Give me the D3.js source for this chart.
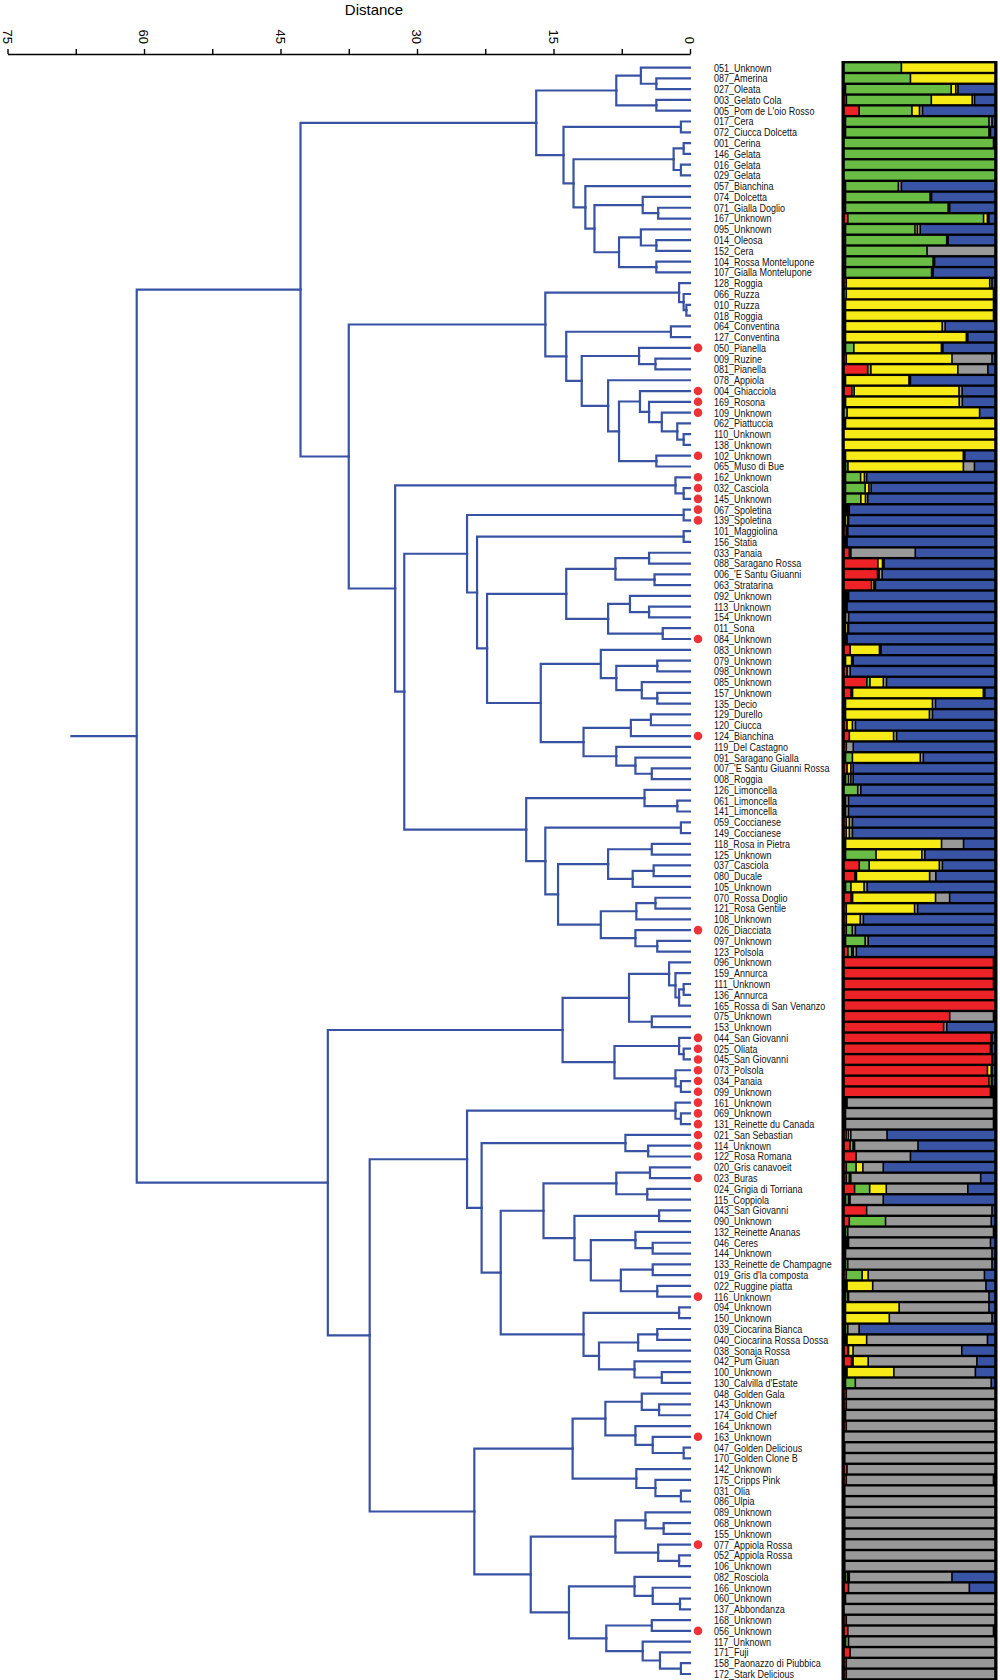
<!DOCTYPE html>
<html>
<head>
<meta charset="utf-8">
<script src="https://cdn.jsdelivr.net/npm/d3@7"></script>
<style>
  body { margin: 0; background: #fff; }
  svg text { font-family: "Liberation Sans", Arial, sans-serif; }
</style>
</head>
<body>
<div id="chart"></div>
<script>

// accessions, top to bottom
var labels = [
  "051_Unknown", "087_Amerina", "027_Oleata", "003_Gelato Cola", "005_Pom de L'oio Rosso",
  "017_Cera", "072_Ciucca Dolcetta", "001_Cerina", "146_Gelata", "016_Gelata",
  "029_Gelata", "057_Bianchina", "074_Dolcetta", "071_Gialla Doglio", "167_Unknown",
  "095_Unknown", "014_Oleosa", "152_Cera", "104_Rossa Montelupone", "107_Gialla Montelupone",
  "128_Roggia", "066_Ruzza", "010_Ruzza", "018_Roggia", "064_Conventina",
  "127_Conventina", "050_Pianella", "009_Ruzine", "081_Pianella", "078_Appiola",
  "004_Ghiacciola", "169_Rosona", "109_Unknown", "062_Piattuccia", "110_Unknown",
  "138_Unknown", "102_Unknown", "065_Muso di Bue", "162_Unknown", "032_Casciola",
  "145_Unknown", "067_Spoletina", "139_Spoletina", "101_Maggiolina", "156_Statia",
  "033_Panaia", "088_Saragano Rossa", "006_'E Santu Giuanni", "063_Stratarina", "092_Unknown",
  "113_Unknown", "154_Unknown", "011_Sona", "084_Unknown", "083_Unknown",
  "079_Unknown", "098_Unknown", "085_Unknown", "157_Unknown", "135_Decio",
  "129_Durello", "120_Ciucca", "124_Bianchina", "119_Del Castagno", "091_Saragano Gialla",
  "007_'E Santu Giuanni Rossa", "008_Roggia", "126_Limoncella", "061_Limoncella", "141_Limoncella",
  "059_Coccianese", "149_Coccianese", "118_Rosa in Pietra", "125_Unknown", "037_Casciola",
  "080_Ducale", "105_Unknown", "070_Rossa Doglio", "121_Rosa Gentile", "108_Unknown",
  "026_Diacciata", "097_Unknown", "123_Polsola", "096_Unknown", "159_Annurca",
  "111_Unknown", "136_Annurca", "165_Rossa di San Venanzo", "075_Unknown", "153_Unknown",
  "044_San Giovanni", "025_Oliata", "045_San Giovanni", "073_Polsola", "034_Panaia",
  "099_Unknown", "161_Unknown", "069_Unknown", "131_Reinette du Canada", "021_San Sebastian",
  "114_Unknown", "122_Rosa Romana", "020_Gris canavoeit", "023_Buras", "024_Grigia di Torriana",
  "115_Coppiola", "043_San Giovanni", "090_Unknown", "132_Reinette Ananas", "046_Ceres",
  "144_Unknown", "133_Reinette de Champagne", "019_Gris d'la composta", "022_Ruggine piatta", "116_Unknown",
  "094_Unknown", "150_Unknown", "039_Ciocarina Bianca", "040_Ciocarina Rossa Dossa", "038_Sonaja Rossa",
  "042_Pum Giuan", "100_Unknown", "130_Calvilla d'Estate", "048_Golden Gala", "143_Unknown",
  "174_Gold Chief", "164_Unknown", "163_Unknown", "047_Golden Delicious", "170_Golden Clone B",
  "142_Unknown", "175_Cripps Pink", "031_Olia", "086_Ulpia", "089_Unknown",
  "068_Unknown", "155_Unknown", "077_Appiola Rossa", "052_Appiola Rossa", "106_Unknown",
  "082_Rosciola", "166_Unknown", "060_Unknown", "137_Abbondanza", "168_Unknown",
  "056_Unknown", "117_Unknown", "171_Fuji", "158_Paonazzo di Piubbica", "172_Stark Delicious"
];

// accessions marked with a red dot
var dotted = ["050", "004", "169", "109", "102", "162", "032", "145", "067", "139",
  "084", "124", "026", "044", "025", "045", "073", "034", "099", "161",
  "069", "131", "021", "114", "122", "023", "116", "163", "077", "056"];

// membership to the five groups, one value per accession
var red = [
  0, 0, .01, .015, .10, .01, .01, 0, 0, 0,
  0, .01, .01, .01, .025, .01, .01, .01, .01, .01,
  .015, 0, .01, .01, .01, .01, .01, .015, .15, .01,
  .05, .01, 0, .01, 0, 0, .01, .01, .01, .01,
  .01, .01, .01, .015, .01, .035, .22, .22, .18, .01,
  .01, .01, .01, .01, .04, .01, .02, .145, .045, .01,
  .01, .02, .035, .015, .01, .02, .01, 0, .01, 0,
  .015, .015, .01, .01, .10, .07, .01, .045, .015, .015,
  .015, .01, .025, .99, .99, .99, 1, 1, .70, .66,
  .975, .97, .98, .95, .96, .97, .01, .01, .01, .015,
  .04, .08, .015, .015, .07, .01, .15, .035, .01, .01,
  .01, .01, .015, .01, .01, .01, .01, .01, .01, .025,
  .05, .01, .01, .015, .015, .01, .015, 0, .005, .005,
  .02, .015, .005, .005, .005, .005, .005, .005, .005, .005,
  .01, .03, .01, 0, .015, .025, .01, .04, .015, .015
];
var green = [
  .38, .44, .70, .54, .35, .95, .95, .99, 1, 1,
  1, .35, .56, .68, .89, .46, .67, .54, .58, .57,
  0, .015, 0, 0, 0, 0, .055, 0, .02, 0,
  .015, 0, .02, 0, 0, 0, 0, .015, .10, .13,
  .10, .01, 0, 0, 0, .01, 0, 0, 0, .01,
  0, 0, 0, 0, 0, 0, 0, .02, .01, 0,
  0, 0, 0, 0, .045, 0, .02, .09, 0, .01,
  0, 0, 0, .20, .065, .01, .035, .01, 0, 0,
  .04, .13, .025, 0, 0, 0, 0, 0, 0, 0,
  0, 0, 0, 0, 0, .01, .01, 0, 0, .015,
  .02, 0, .065, .02, .10, .02, 0, .24, .015, .01,
  0, .015, .105, .01, .015, 0, 0, .015, .01, .005,
  .01, .01, .065, 0, 0, 0, 0, 0, 0, 0,
  0, 0, 0, 0, 0, 0, 0, 0, 0, 0,
  .015, 0, 0, 0, 0, 0, .02, 0, 0, 0
];
var yellow = [
  .62, .56, .03, .26, .05, 0, 0, 0, 0, 0,
  0, 0, 0, 0, .025, .015, 0, 0, 0, 0,
  .95, .975, .98, .98, .64, .80, .58, .70, .55, .42,
  .67, .73, .86, .99, 1, 1, .78, .73, .025, .025,
  .03, .01, .015, 0, 0, 0, .03, .01, .015, 0,
  0, 0, .015, 0, .19, .04, 0, .085, .84, .57,
  .55, .035, .29, 0, .445, .025, .015, 0, 0, 0,
  .02, .02, .61, .30, .46, .47, .085, .53, .45, .09,
  0, 0, .01, 0, 0, 0, 0, 0, 0, 0,
  0, 0, 0, .025, .015, .01, 0, 0, 0, .015,
  .01, 0, .045, .01, .11, .01, 0, 0, 0, .01,
  0, 0, .04, .17, .005, .355, .29, 0, .13, .03,
  .10, .31, 0, 0, 0, 0, 0, 0, 0, 0,
  0, 0, 0, 0, 0, 0, 0, 0, 0, 0,
  .01, 0, 0, 0, 0, 0, 0, 0, 0, 0
];
var gray = [
  0, 0, .015, .015, .02, .02, .01, 0, 0, 0,
  0, .02, .01, .01, .01, .02, .01, .45, .01, .01,
  .015, 0, 0, 0, .02, .01, .01, .265, .19, .01,
  .02, .02, 0, 0, 0, 0, .01, .07, .015, .015,
  .015, .005, .005, .01, .01, .42, .01, .02, .01, .01,
  .01, .02, .005, .01, .01, .01, .02, .02, .01, .02,
  .02, .02, .02, .045, .02, .015, .015, .02, .02, .02,
  .02, .02, .14, .02, .02, .04, .02, .09, .02, .02,
  .02, .02, .02, 0, 0, 0, 0, 0, .29, .02,
  .005, .01, .005, .005, .005, 0, .97, .98, .98, .24,
  .42, .36, .135, .86, .54, .22, .83, .70, .965, .94,
  .97, .955, .77, .75, .93, .595, .68, .075, .80, .72,
  .72, .54, .90, .985, .985, .99, .985, 1, .995, .995,
  .98, .975, .995, .995, .995, .995, .995, .995, .995, .995,
  .68, .80, .99, 1, .985, .965, .97, .96, .985, .985
];
var blue = [
  0, 0, .245, .13, .48, .02, .03, .01, 0, 0,
  0, .62, .42, .30, .04, .495, .31, 0, .40, .41,
  .02, .01, .01, .01, .33, .18, .345, .02, .045, .56,
  .21, .21, .10, 0, 0, 0, .20, .13, .85, .82,
  .83, .965, .96, .96, .97, .52, .72, .74, .78, .96,
  .97, .95, .96, .97, .74, .93, .94, .69, .065, .39,
  .41, .915, .645, .92, .47, .93, .93, .88, .97, .97,
  .935, .935, .20, .46, .345, .38, .83, .29, .51, .85,
  .925, .84, .90, .01, .01, .01, 0, 0, .01, .32,
  .02, .02, .015, .02, .02, .01, .01, .01, .01, .715,
  .51, .56, .74, .095, .18, .74, .02, .025, .01, .03,
  .02, .02, .07, .06, .04, .04, .02, .90, .05, .22,
  .12, .13, .025, 0, 0, 0, 0, 0, 0, 0,
  0, .01, 0, 0, 0, 0, 0, 0, 0, 0,
  .285, .17, 0, 0, 0, .01, 0, 0, 0, 0
];

var groupKeys = ["red", "green", "yellow", "gray", "blue"];
var groupColors = ["#ec2227", "#69bd45", "#f6eb16", "#999999", "#3a54a5"];

// dendrogram: leaves are row indexes, the number after ")" is the merge distance
var greenClade = "(((0,(1,2)3.7)5.4,(3,4)3.7)8.1,((5,6)1.0,(((7,8)0.7,(9,10)1.0)1.8,(11,((12,(13,14)3.5)5.2,((15,(16,17)3.7)5.4,(18,19)3.7)7.8)10.5)11.5)12.8)13.9)16.9";
var yellowClade = "((20,(21,(22,23)0.4)0.7)1.2,((24,25)2.1,((26,(27,28)3.8)5.6,(29,((30,(31,(32,(33,(34,35)0.7)1.4)3.1)4.5)5.5,(36,37)3.7)7.8)9.0)11.9)13.6)15.9";
var blueClade1 = "((((45,46)4.5,(47,48)3.9)8.2,((49,(50,51)4.5)6.6,(52,53)3.0)9.0)13.6,((54,((55,56)3.6,(57,(58,59)3.6)5.3)8.1)9.8,(((60,61)4.3,62)6.5,(63,(64,(65,66)4.2)6.0)8.1)11.7)16.4)22.3";
var blueClade2 = "((67,(68,69)1.4)5.0,((70,71)1.0,(((72,73)4.2,((74,75)4.0,76)6.3)9.0,(((77,78)3.8,79)5.9,(80,(81,82)3.6)6.0)9.8)14.5)15.9)18.0";
var redClade = "(((83,(84,((85,86)0.7,87)1.2)1.6)2.3,(88,89)4.2)6.7,((90,(91,92)0.7)1.2,(93,(94,95)1.0)1.6)8.3)14.0";
var grayClade1 = "(((102,103)4.4,(104,105)4.7)8.1,((106,107)3.4,((108,(109,110)4.1)6.0,((111,112)4.1,(113,114)3.6)7.6)10.9)12.7)16.1";
var grayClade2 = "((115,116)1.2,(((117,118)3.6,119)5.7,(120,(121,122)3.1)6.1)10.0)11.7";
var grayClade3 = "(((123,(124,125)3.4)5.3,(126,(127,(128,129)0.7)4.1)6.0)9.3,(130,(131,(132,133)1.0)3.8)5.9)12.9";
var grayClade4 = "(((134,(135,136)2.9)4.9,(137,(138,139)1.2)3.5)8.2,((140,(141,(142,143)1.1)4.1)6.1,((144,145)4.2,(146,(147,(148,149)1.0)3.3)5.2)9.2)13.3)17.5";

var blueTop = "((38,(39,40)0.7)1.6,(((41,42)0.7,((43,44)0.7," + blueClade1 + ")23.4)24.5," + blueClade2 + ")31.4)32.4";
var upperHalf = "(" + greenClade + ",(" + yellowClade + "," + blueTop + ")37.5)42.8";
var grayHalf = "(((96,(97,98)1.0)1.6,((99,(100,101)4.6)7.1,(" + grayClade1 + "," + grayClade2 + ")20.8)22.9)24.5,(" + grayClade3 + "," + grayClade4 + ")23.7)35.2";
var lowerHalf = "(" + redClade + "," + grayHalf + ")39.8";
var treeText = "(" + upperHalf + "," + lowerHalf + ")60.8";
var rootStub = 68.1;

var parseTree = function(s) {
    var i = 0;
    var num = function() {
        var j = i;
        while (i < s.length && /[0-9.]/.test(s[i])) i++;
        return +s.slice(j, i);
    };
    var node = function() {
        if (s[i] === "(") {
            i++;
            var kids = [node()];
            while (s[i] === ",") { i++; kids.push(node()); }
            i++;
            return {children: kids, height: num()};
        }
        return {leaf: num(), height: 0};
    };
    return node();
};

var svg = d3.select("#chart").append("svg")
    .attr("width", 1000)
    .attr("height", 1680);

var x = d3.scaleLinear().domain([0, 75]).range([690, 7.5]);
var row = d3.scaleLinear().domain([0, labels.length - 1]).range([67.6, 1674]);
var xb = d3.scaleLinear().domain([0, 1]).range([844, 995]);

// axis on top
var axis = d3.axisTop(x)
    .tickValues(d3.range(0, 75.1, 7.5))
    .tickSize(5)
    .tickSizeOuter(0)
    .tickFormat("");

var axisG = svg.append("g")
    .attr("transform", "translate(0,54)")
    .call(axis);
axisG.select(".domain").attr("stroke", "#000").attr("stroke-width", 1.6);
axisG.selectAll(".tick line").attr("stroke", "#000").attr("stroke-width", 1.4);

axisG.selectAll(".major")
    .data(d3.range(0, 75.1, 15))
    .enter().append("text")
    .attr("class", "major")
    .attr("transform", function(d) { return "translate(" + x(d) + ",-10) rotate(90)"; })
    .attr("text-anchor", "end")
    .attr("dy", "0.35em")
    .style("font-size", "13px")
    .attr("fill", "#000")
    .text(function(d) { return d; });

svg.append("text")
    .attr("x", 374)
    .attr("y", 15)
    .attr("text-anchor", "middle")
    .style("font-size", "15px")
    .text("Distance");

// dendrogram
var root = d3.hierarchy(parseTree(treeText));
root.eachAfter(function(n) {
    if (n.children) {
        n.py = (n.children[0].py + n.children[n.children.length - 1].py) / 2;
    } else {
        n.py = row(n.data.leaf);
    }
});

svg.append("g")
    .selectAll("path")
    .data(root.descendants().filter(function(n) { return n.parent; }))
    .enter().append("path")
    .attr("d", function(n) {
        return "M" + x(n.parent.data.height) + "," + n.parent.py +
            "V" + n.py + "H" + x(n.data.height);
    })
    .attr("fill", "none")
    .attr("stroke", "#3953a4")
    .attr("stroke-width", 2.2)
    .attr("stroke-linecap", "square");

svg.append("line")
    .attr("x1", x(rootStub))
    .attr("x2", x(root.data.height))
    .attr("y1", root.py)
    .attr("y2", root.py)
    .attr("stroke", "#3953a4")
    .attr("stroke-width", 2.2);

// red dots
svg.append("g")
    .selectAll("circle")
    .data(labels.filter(function(l) { return dotted.indexOf(l.slice(0, 3)) >= 0; }))
    .enter().append("circle")
    .attr("cx", 698)
    .attr("cy", function(l) { return row(labels.indexOf(l)); })
    .attr("r", 4.3)
    .attr("fill", "#ee3338");

// labels, squeezed to look like a narrow face
svg.append("g")
    .attr("transform", "translate(714,0) scale(0.82,1)")
    .selectAll("text")
    .data(labels)
    .enter().append("text")
    .attr("x", 0)
    .attr("y", function(l, i) { return row(i); })
    .attr("dy", "0.36em")
    .style("font-size", "11px")
    .attr("fill", "#111")
    .text(function(l) { return l; });

// structure bars
var rows = labels.map(function(l, i) {
    return {red: red[i], green: green[i], yellow: yellow[i], gray: gray[i], blue: blue[i]};
});
var series = d3.stack().keys(groupKeys).offset(d3.stackOffsetExpand)(rows);

svg.append("rect")
    .attr("x", 841.5)
    .attr("y", row(0) - 6.6)
    .attr("width", 156)
    .attr("height", row(labels.length - 1) - row(0) + 13.2)
    .attr("fill", "#000");

svg.append("g")
    .selectAll("g")
    .data(series)
    .enter().append("g")
    .attr("fill", function(s, k) { return groupColors[k]; })
    .selectAll("rect")
    .data(function(s) { return s; })
    .enter().append("rect")
    .attr("x", function(d) { return xb(d[0]) + 0.8; })
    .attr("y", function(d, i) { return row(i) - 4.2; })
    .attr("width", function(d) { return Math.max(0, xb(d[1]) - xb(d[0]) - 1.6); })
    .attr("height", 8.4);

</script>
</body>
</html>
